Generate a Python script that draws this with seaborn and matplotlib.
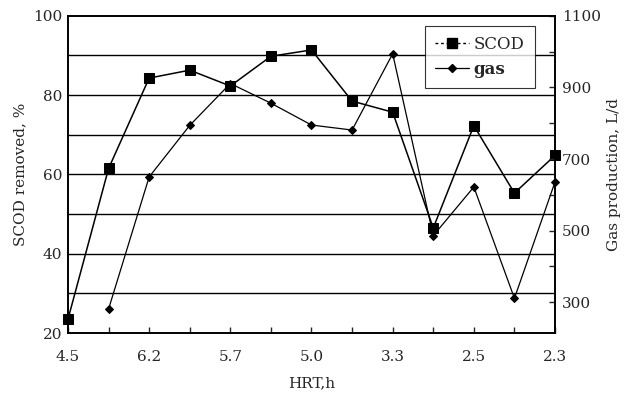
import numpy as np
import pandas as pd
import matplotlib
matplotlib.use("Agg")
import matplotlib.pyplot as plt
import seaborn as sns
from matplotlib.lines import Line2D

# HRT sequence (only every other tick is labelled in the original)
hrt_labels = ["4.5", "", "6.2", "", "5.7", "", "5.0", "", "3.3", "", "2.5", "", "2.3"]
scod_removed = [23.5, 61.5, 84.3, 86.3, 82.3, 89.8, 91.4, 78.5, 75.7, 46.5, 72.3, 55.3, 64.8]
gas_production = [np.nan, 281, 650, 794, 911, 856, 795, 781, 994, 486, 622, 311, 636]

df = pd.DataFrame({
    "pos": range(len(hrt_labels)),
    "scod": scod_removed,
    "gas": gas_production,
})

sns.set_style("ticks")
plt.rcParams["font.family"] = ["DejaVu Serif"]
plt.rcParams["font.size"] = 11

fig = plt.figure(figsize=(6.26, 3.96), dpi=100)
ax = fig.add_axes([0.1086, 0.159, 0.778, 0.801])

# horizontal reference lines
for v in range(30, 100, 10):
    ax.axhline(v, color="black", lw=1.0, zorder=0)

sns.lineplot(data=df, x="pos", y="scod", ax=ax, color="black", lw=1.1,
             marker="s", markersize=7, markeredgecolor="black", clip_on=False)
ax.set_ylim(20, 100)
ax.set_xlim(0, len(hrt_labels) - 1)
ax.set_yticks([20, 40, 60, 80, 100])
ax.set_xticks(df["pos"])
ax.set_xticklabels(hrt_labels)
ax.tick_params(axis="x", direction="in", length=4, width=1, pad=12)
ax.tick_params(axis="y", direction="in", length=0, pad=4)
ax.set_xlabel("HRT,h", labelpad=9)
ax.set_ylabel("SCOD removed, %")

ax2 = ax.twinx()
sns.lineplot(data=df.dropna(), x="pos", y="gas", ax=ax2, color="black", lw=0.9,
             marker="D", markersize=4, markeredgecolor="black", clip_on=False)
ax2.set_ylim(214, 1100)
ax2.set_yticks([300, 500, 700, 900, 1100])
ax2.set_yticks([400, 600, 800, 1000], minor=True)
ax2.tick_params(axis="y", which="both", direction="in", length=4, width=1, pad=5)
ax2.set_ylabel("Gas production, L/d", labelpad=4)
ax2.set_xlim(0, len(hrt_labels) - 1)

for a in (ax, ax2):
    for s in a.spines.values():
        s.set_color("black")
        s.set_linewidth(1.2)

handles = [
    Line2D([], [], color="black", lw=1.0, ls=(0, (2, 2)), marker="s", markersize=7),
    Line2D([], [], color="black", lw=0.9, marker="D", markersize=4),
]
leg = ax2.legend(handles, ["SCOD", "gas"], loc="upper right",
                 bbox_to_anchor=(0.975, 0.995), frameon=True, fancybox=False,
                 edgecolor="black", handlelength=2.0, handletextpad=0.3,
                 borderpad=0.6, fontsize=12)
leg.get_frame().set_linewidth(0.8)
leg.get_texts()[1].set_fontweight("bold")

fig.savefig("out.png", dpi=100)
